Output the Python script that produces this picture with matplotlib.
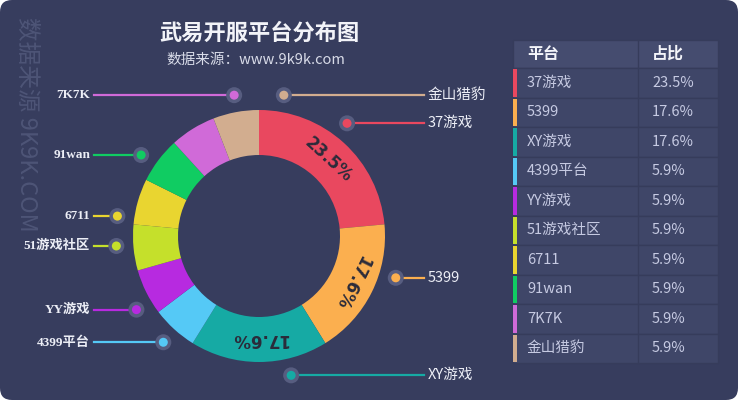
import matplotlib
matplotlib.use('Agg')
import matplotlib.pyplot as plt
from matplotlib.patches import Circle, Rectangle, FancyBboxPatch
import numpy as np

plt.rcParams['font.family'] = ['Noto Sans CJK SC', 'DejaVu Sans']

platforms = ['37游戏', '5399', 'XY游戏', '4399平台', 'YY游戏', '51游戏社区', '6711', '91wan', '7K7K', '金山猎豹']
counts = [4, 3, 3, 1, 1, 1, 1, 1, 1, 1]
colors = ['#e9485f', '#fbaf4f', '#16aaa4', '#55c9f6', '#b72ae0',
          '#c5e02b', '#e9d530', '#10cc62', '#d06ad8', '#d2ad8f']

title = '武易开服平台分布图'
subtitle = '数据来源：www.9k9k.com'
watermark = '数据来源 9K9K.COM'
table_header = ['平台', '占比']

# callout dots: angle clockwise from 12 o'clock
dot_angle = [38, 107, 167, 222, 239, 266, 278, 304.5, 350, 10]

bg = '#373d5e'
W, H = 738, 400
cx, cy = 259, 400 - 236
R, ring = 126, 45


def Y(y):
    return H - y


fig = plt.figure(figsize=(W / 100, H / 100), dpi=100, facecolor='white')
ax = fig.add_axes([0, 0, 1, 1])
ax.add_patch(FancyBboxPatch((0, 0), W, H, boxstyle='round,pad=0,rounding_size=12',
                            fc=bg, ec='none', zorder=0))

total = sum(counts)
pcts = [c / total * 100 for c in counts]

ax.pie(counts, colors=colors, startangle=90, counterclock=False, radius=R,
       center=(cx, cy), frame=True,
       wedgeprops=dict(width=ring, linewidth=0))

# percentage labels inside the ring for the big slices
start = 0
for i, c in enumerate(counts):
    span = c / total * 360
    mid = start + span / 2
    start += span
    if pcts[i] < 10:
        continue
    r = R - ring / 2
    x = cx + r * np.sin(np.radians(mid))
    y = cy + r * np.cos(np.radians(mid))
    ax.text(x, y, '%.1f%%' % pcts[i], rotation=-mid, rotation_mode='anchor',
            ha='center', va='center', fontsize=12, fontweight='bold',
            color='#2b2b3a', family=['DejaVu Sans'])

# callouts
rd = 143
for i, name in enumerate(platforms):
    a = np.radians(dot_angle[i])
    x = cx + rd * np.sin(a)
    y = cy + rd * np.cos(a)
    ax.add_patch(Circle((x, y), 8, fc='#575d80', ec='none', zorder=3))
    ax.add_patch(Circle((x, y), 4.5, fc=colors[i], ec='none', zorder=4))
    if np.sin(a) > 0:
        ax.plot([x, 424], [y, y], color=colors[i], lw=1.6, zorder=2)
        ax.text(428, y, name, ha='left', va='center', fontsize=10.5, color='#eceef6')
    else:
        ax.plot([94, x], [y, y], color=colors[i], lw=1.6, zorder=2)
        ax.text(90, y, name, ha='right', va='center', fontsize=9.5, color='#eceef6',
                family=['Liberation Serif', 'Noto Sans CJK SC'], fontweight='bold',
                zorder=5)

# title
ax.text(259, Y(33), title, ha='center', va='center', fontsize=16,
        fontweight='bold', color='#f2f3f8')
ax.text(256, Y(60), subtitle, ha='center', va='center', fontsize=10.5,
        color='#d8dbe8')

# watermark
ax.text(27, Y(17), watermark, rotation=-90, ha='center', va='top',
        fontsize=17, color='#4e5577', zorder=1)

# table
tx0, tx1, tmid = 513, 718, 638
ty0, hh, rh = 40, 28, 29.5
ax.add_patch(Rectangle((tx0, Y(ty0 + hh)), tx1 - tx0, hh, fc='#454c6f', ec='#363c5b', lw=1))
ax.plot([tmid, tmid], [Y(ty0), Y(ty0 + hh + rh * len(platforms))], color='#363c5b', lw=1, zorder=3)
ax.text(527, Y(ty0 + hh / 2), table_header[0], ha='left', va='center',
        fontsize=11.5, fontweight='bold', color='#f4f5fa')
ax.text(652, Y(ty0 + hh / 2), table_header[1], ha='left', va='center',
        fontsize=11.5, fontweight='bold', color='#f4f5fa')
for i, name in enumerate(platforms):
    top = ty0 + hh + i * rh
    ax.add_patch(Rectangle((tx0, Y(top + rh)), tx1 - tx0, rh, fc='#3f4668', ec='#363c5b', lw=1))
    ax.add_patch(Rectangle((tx0, Y(top + rh) + 1), 4, rh - 2, fc=colors[i], ec='none', zorder=3))
    ax.text(527, Y(top + rh / 2), name, ha='left', va='center', fontsize=10.5, color='#c6cae2')
    ax.text(652, Y(top + rh / 2), '%.1f%%' % pcts[i], ha='left', va='center',
            fontsize=10.5, color='#c6cae2')

ax.set_xlim(0, W)
ax.set_ylim(0, H)
ax.set_aspect('equal')
ax.axis('off')
fig.savefig('out.png', dpi=100, facecolor='white')
